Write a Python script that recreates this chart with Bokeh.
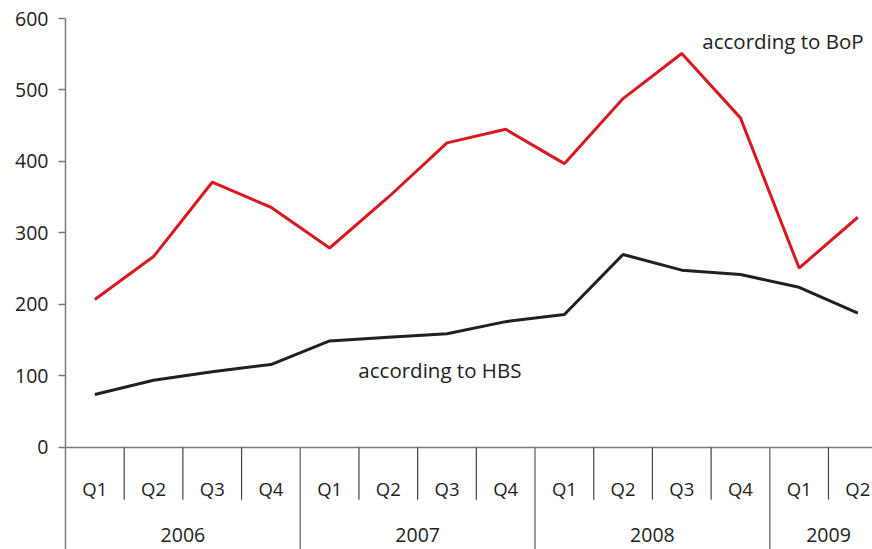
from bokeh.plotting import figure
from bokeh.models import Range1d, FixedTicker
from bokeh.core.properties import value
from bokeh.embed import file_html
from bokeh.resources import INLINE

years = ["2006", "2007", "2008", "2009"]
quarters_per_year = [4, 4, 4, 2]
quarters = ["Q1", "Q2", "Q3", "Q4", "Q1", "Q2", "Q3", "Q4",
            "Q1", "Q2", "Q3", "Q4", "Q1", "Q2"]
bop = [207, 267, 371, 336, 279, 350, 426, 445, 397, 488, 551, 461, 251, 322]
hbs = [74, 94, 106, 116, 149, 154, 159, 176, 186, 270, 248, 242, 224, 188]
y_ticks = [0, 100, 200, 300, 400, 500, 600]

FONT = "Open Sans"
AXIS_COLOR = "#7a7a7a"
TXT = "#222222"
Y_BOTTOM = -142.7

p = figure(width=872, height=549, output_backend="svg", toolbar_location=None,
           x_axis_location=None,
           x_range=Range1d(0, 13.75), y_range=Range1d(Y_BOTTOM, 600),
           min_border_left=65, min_border_right=0, min_border_top=18,
           min_border_bottom=0)
p.outline_line_color = None
p.grid.visible = False

ya = p.yaxis[0]
ya.ticker = FixedTicker(ticks=y_ticks)
ya.axis_line_color = AXIS_COLOR
ya.axis_line_width = 1.5
ya.major_tick_line_color = AXIS_COLOR
ya.major_tick_line_width = 1.5
ya.major_tick_out = 7
ya.major_tick_in = 0
ya.minor_tick_line_color = None
ya.major_label_standoff = 10
ya.major_label_text_font = FONT
ya.major_label_text_font_size = "19.5px"
ya.major_label_text_color = TXT

n = len(quarters)
xs = [i + 0.5 for i in range(n)]

# x axis line at zero
p.segment(x0=[0], y0=[0], x1=[n], y1=[0], line_color=AXIS_COLOR, line_width=1.5)

# separators
qb, yb = [], []
pos = 0
for k in quarters_per_year:
    for j in range(1, k):
        qb.append(pos + j)
    pos += k
    if pos < n:
        yb.append(pos)
p.segment(x0=qb, y0=[0] * len(qb), x1=qb, y1=[-73] * len(qb),
          line_color="#444444", line_width=1.2)
p.segment(x0=yb, y0=[0] * len(yb), x1=yb, y1=[Y_BOTTOM] * len(yb),
          line_color=AXIS_COLOR, line_width=1.5)

# quarter labels
p.text(x=xs, y=[-57] * n, text=quarters, text_align="center",
       text_baseline="middle", text_font=value(FONT), text_font_size="18.5px",
       text_color=TXT)

# year labels
yc = []
pos = 0
for k in quarters_per_year:
    yc.append(pos + k / 2)
    pos += k
p.text(x=yc, y=[-123] * len(years), text=years, text_align="center",
       text_baseline="middle", text_font=value(FONT), text_font_size="19.5px",
       text_color=TXT)

p.line(xs, bop, line_color="#d71920", line_width=3)
p.line(xs, hbs, line_color="#231f20", line_width=3)

p.text(x=[10.85], y=[569], text=["according to BoP"], text_align="left",
       text_baseline="middle", text_font=value(FONT), text_font_size="20.5px",
       text_color=TXT)
p.text(x=[4.99], y=[108], text=["according to HBS"], text_align="left",
       text_baseline="middle", text_font=value(FONT), text_font_size="20.5px",
       text_color=TXT)

open("out.html", "w").write(file_html(p, INLINE))
